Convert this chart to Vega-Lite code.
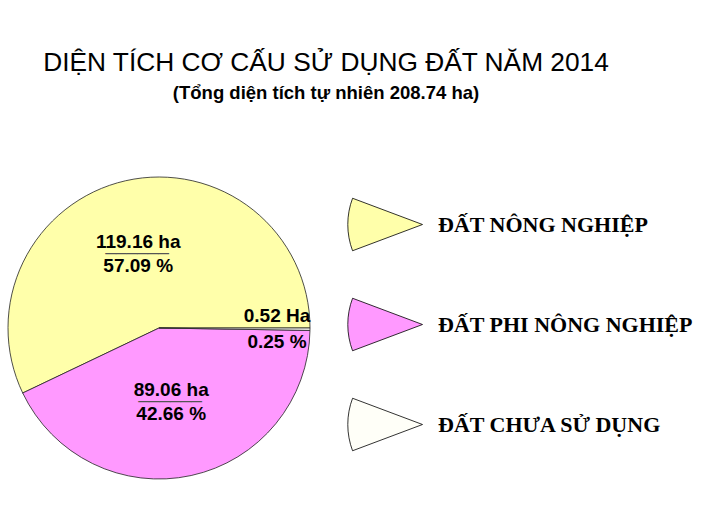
{
  "$schema": "https://vega.github.io/schema/vega-lite/v6.json",
  "width": 318,
  "height": 302,
  "autosize": {"type": "none"},
  "padding": {"left": 0, "top": 177, "right": 407, "bottom": 36},
  "background": "white",
  "config": {"view": {"stroke": null}},
  "title": {
    "text": "DIỆN TÍCH CƠ CẤU SỬ DỤNG ĐẤT NĂM 2014",
    "subtitle": "(Tổng diện tích tự nhiên 208.74 ha)",
    "anchor": "middle",
    "frame": "group",
    "dx": 167,
    "offset": 73,
    "font": "Liberation Sans",
    "fontSize": 26.3,
    "fontWeight": "normal",
    "color": "black",
    "subtitleFont": "Liberation Sans",
    "subtitleFontSize": 18.5,
    "subtitleFontWeight": "bold",
    "subtitleColor": "black",
    "subtitlePadding": 8
  },
  "data": {
    "values": [
      {"type": "ĐẤT NÔNG NGHIỆP", "area": 119.16, "top": "119.16 ha", "bottom": "57.09 %"},
      {"type": "ĐẤT PHI NÔNG NGHIỆP", "area": 89.06, "top": "89.06 ha", "bottom": "42.66 %"},
      {"type": "ĐẤT CHƯA SỬ DỤNG", "area": 0.52, "top": "0.52 Ha", "bottom": "0.25 %"}
    ]
  },
  "encoding": {
    "theta": {"field": "area", "type": "quantitative", "stack": true, "scale": {"range": [1.5708, 7.854]}},
    "order": {"field": "area", "sort": "ascending"}
  },
  "layer": [
    {
      "mark": {"type": "arc", "outerRadius": 151, "stroke": "#222222", "strokeWidth": 0.8},
      "encoding": {
        "color": {
          "field": "type",
          "type": "nominal",
          "scale": {
            "domain": ["ĐẤT NÔNG NGHIỆP", "ĐẤT PHI NÔNG NGHIỆP", "ĐẤT CHƯA SỬ DỤNG"],
            "range": ["#FFFFAA", "#FF99FF", "#FFFFF8"]
          },
          "legend": {
            "orient": "none",
            "legendX": 347,
            "legendY": 9.5,
            "title": null,
            "symbolType": "M1,0L-0.865,-0.7A1.99,1.99,0,0,0,-0.865,0.7Z",
            "symbolSize": 5625,
            "symbolStrokeColor": "black",
            "symbolStrokeWidth": 0.8,
            "symbolOpacity": 1,
            "labelFont": "Liberation Serif",
            "labelFontSize": 22,
            "labelFontWeight": "bold",
            "labelColor": "black",
            "labelOffset": 15,
            "labelLimit": 400,
            "rowPadding": 34
          }
        }
      }
    },
    {
      "mark": {"type": "text", "radius": 76, "dx": -4, "dy": -12, "baseline": "middle", "font": "Liberation Sans", "fontSize": 19, "fontWeight": "bold", "fill": "black"},
      "encoding": {"text": {"condition": {"test": "datum.area < 1", "value": ""}, "field": "top"}}
    },
    {
      "mark": {"type": "text", "radius": 76, "dx": -4, "dy": 12, "baseline": "middle", "font": "Liberation Sans", "fontSize": 19, "fontWeight": "bold", "fill": "black"},
      "encoding": {"text": {"condition": {"test": "datum.area < 1", "value": ""}, "field": "bottom"}}
    },
    {
      "mark": {"type": "text", "radius": 76, "dx": -5, "dy": -4, "baseline": "alphabetic", "font": "Liberation Sans", "fontSize": 19, "fill": "#555555"},
      "encoding": {"text": {"condition": {"test": "datum.area < 1", "value": ""}, "value": "______"}}
    },
    {
      "mark": {"type": "text", "radius": 118, "dy": -13, "baseline": "middle", "font": "Liberation Sans", "fontSize": 19, "fontWeight": "bold", "fill": "black"},
      "encoding": {"text": {"condition": {"test": "datum.area > 1", "value": ""}, "field": "top"}}
    },
    {
      "mark": {"type": "text", "radius": 118, "dy": 13, "baseline": "middle", "font": "Liberation Sans", "fontSize": 19, "fontWeight": "bold", "fill": "black"},
      "encoding": {"text": {"condition": {"test": "datum.area > 1", "value": ""}, "field": "bottom"}}
    }
  ]
}
